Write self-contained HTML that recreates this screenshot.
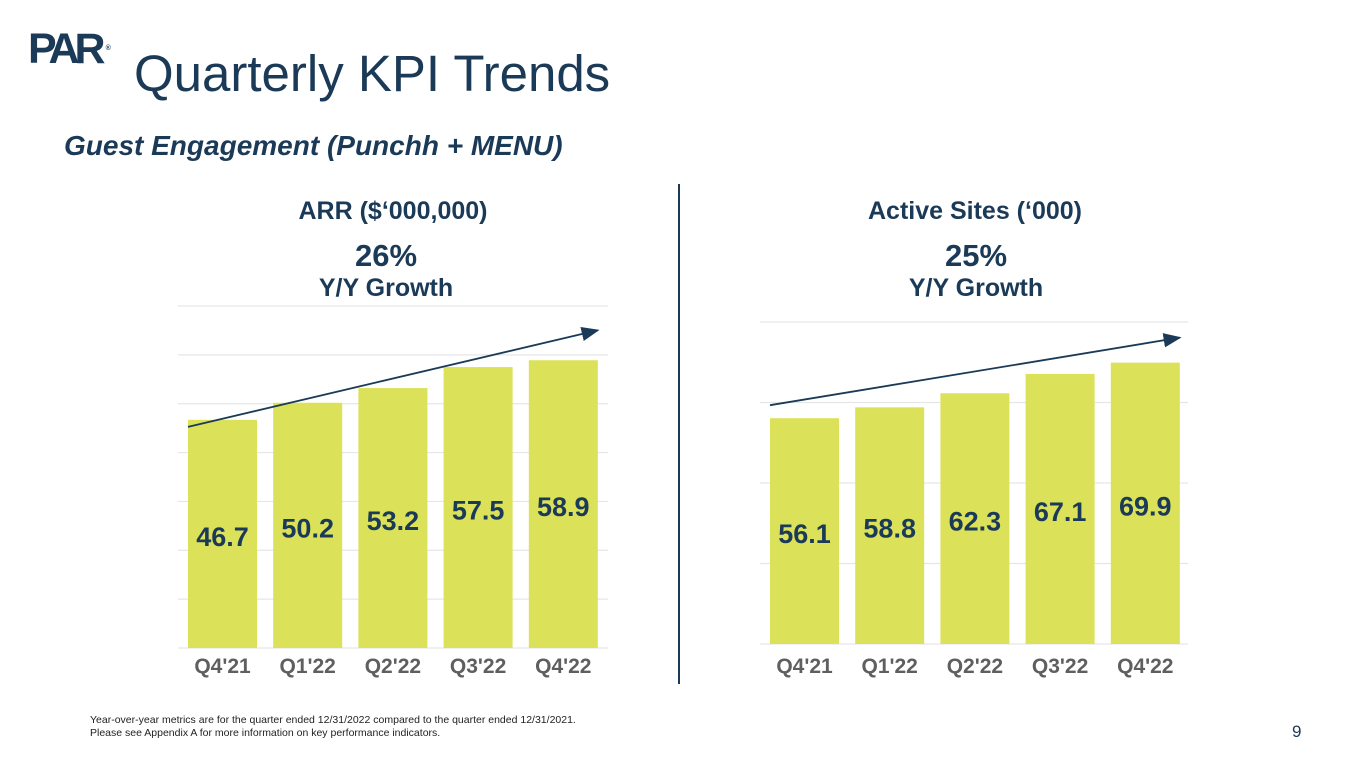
<!DOCTYPE html>
<html><head><meta charset="utf-8"><style>
body{margin:0;width:1365px;height:768px;background:#fff;font-family:"Liberation Sans",Arial,sans-serif;overflow:hidden;position:relative}
.abs{position:absolute}
</style></head><body>
<div class="abs" style="left:28px;top:27px;font-weight:900;font-size:43px;color:#1b3a57;letter-spacing:-5px;line-height:44px">PAR<span style="font-size:7px;vertical-align:top;letter-spacing:0;margin-left:5px">®</span></div>
<div class="abs" style="left:134px;top:44px;font-size:51px;color:#1b3a57;line-height:60px">Quarterly KPI Trends</div>
<div class="abs" style="left:64px;top:129px;font-size:28px;font-weight:bold;font-style:italic;color:#1b3a57;line-height:34px">Guest Engagement (Punchh + MENU)</div>
<div class="abs" style="left:678px;top:184px;width:2px;height:500px;background:#1b3a57"></div>
<div class="abs" style="left:90px;top:714px;font-size:10.5px;color:#222;line-height:13px">Year-over-year metrics are for the quarter ended 12/31/2022 compared to the quarter ended 12/31/2021.<br>Please see Appendix A for more information on key performance indicators.</div>
<div class="abs" style="left:1292px;top:722px;font-size:17px;color:#1b3a57">9</div>
<svg class="abs" style="left:0;top:0" width="1365" height="768" id="svg">
<defs><marker id="ah" markerWidth="10" markerHeight="8" refX="9" refY="4" orient="auto"><path d="M0,0L10,4L0,8z" fill="#1b3a57"/></marker></defs>
</svg>
<script>
const categories=["Q4'21","Q1'22","Q2'22","Q3'22","Q4'22"];
const arrValues=[46.7,50.2,53.2,57.5,58.9];
const sitesValues=[56.1,58.8,62.3,67.1,69.9];
const arrTicks=[0,10,20,30,40,50,60,70];
const sitesTicks=[0,20,40,60,80];
const NS='http://www.w3.org/2000/svg';
const svg=document.getElementById('svg');
function mk(t,a){const e=document.createElementNS(NS,t);for(const k in a)e.setAttribute(k,a[k]);svg.appendChild(e);return e;}
function chart(o){
  const y=v=>o.base-(v-0)/o.max*(o.base-o.top);
  const x=i=>o.x0+i*o.step;
  let t=mk('text',{x:o.cx,y:219,'text-anchor':'middle','font-size':25,'font-weight':'bold',fill:'#1b3a57'});t.textContent=o.title;
  
  t=mk('text',{x:o.gcx,y:266,'text-anchor':'middle','font-size':31,'font-weight':'bold',fill:'#1b3a57'});t.textContent=o.growth;
  
  t=mk('text',{x:o.gcx,y:296,'text-anchor':'middle','font-size':25,'font-weight':'bold',fill:'#1b3a57'});t.textContent='Y/Y Growth';
  
  o.ticks.forEach(v=>{const l=mk('line',{x1:o.gx0,x2:o.gx1,y1:y(v),y2:y(v),stroke:'#e6e6e6','stroke-width':1.2});
    });
  o.vals.forEach((v,i)=>{
    const r=mk('rect',{x:x(i),y:y(v),width:o.bw,height:o.base-y(v),fill:'#dce15a'});
    
    const lt=mk('text',{x:x(i)+o.bw/2,y:(y(v)+o.base)/2+12,'text-anchor':'middle','font-size':27,'font-weight':'bold',fill:'#1b3a57'});
    lt.textContent=v.toFixed(1);
    
    const c=mk('text',{x:x(i)+o.bw/2,y:o.catY,'text-anchor':'middle','font-size':21,'font-weight':'bold',fill:'#5f5f5f'});
    c.textContent=categories[i];
    
  });
  const n=o.vals.length-1;
  const a=mk('line',{x1:x(0),y1:y(o.vals[0])+o.a0,x2:x(n)+o.bw,y2:y(o.vals[n])+o.a1,stroke:'#1b3a57','stroke-width':1.8,'marker-end':'url(#ah)'});
  
}
chart({id:'arr',title:'ARR ($‘000,000)',growth:'26%',cx:393,gcx:386,vals:arrValues,ticks:arrTicks,max:70,base:648,top:306,x0:188,step:85.2,bw:69,gx0:178,gx1:608,catY:673,a0:7,a1:-30});
chart({id:'sites',title:'Active Sites (‘000)',growth:'25%',cx:975,gcx:976,vals:sitesValues,ticks:sitesTicks,max:80,base:644,top:322,x0:770,step:85.2,bw:69,gx0:760,gx1:1188,catY:673,a0:-13,a1:-25});
</script>
</body></html>
